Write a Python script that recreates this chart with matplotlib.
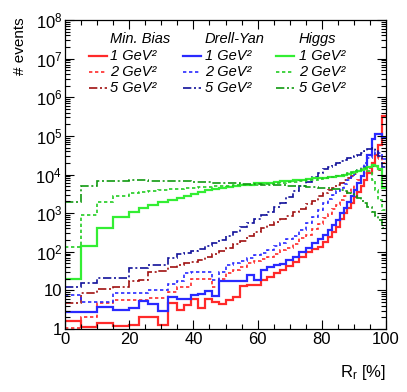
import numpy as np
import matplotlib
matplotlib.use("Agg")
import matplotlib.pyplot as plt
from matplotlib.lines import Line2D
from matplotlib.ticker import LogLocator, FuncFormatter, MultipleLocator

plt.rcParams['font.family'] = ['Liberation Sans', 'DejaVu Sans']
plt.rcParams['mathtext.fontset'] = 'custom'
plt.rcParams['mathtext.rm'] = 'Liberation Sans'
plt.rcParams['mathtext.it'] = 'Liberation Sans:italic'

# ---------------- data ----------------
bin_edges = [0, 5, 10, 15, 20, 23, 26, 29, 32, 35, 37, 39.2, 41.4, 43.6, 45.8, 48, 50.2,
             52.4, 54.6, 56.8, 59, 61, 63, 65, 67, 69, 71, 73, 75, 77, 78.8, 80.4, 81.8,
             83.1, 84.4, 85.7, 86.8, 87.9, 89, 90, 91.1, 92.1, 93.1, 94, 95.5, 96.6,
             97.6, 98.7, 100]

minbias_1 = [1.6, 1.15, 1.4, 1.2, 1.3, 2.0, 2.0, 1.3, 4.8, 3.1, 4.2, 6.1, 3.4, 6.1, 5.1, 4.4,
             5.6, 6.9, 13, 13.5, 13.5, 18.6, 22, 28, 34, 43, 55, 72, 100, 115, 135, 182, 246,
             330, 447, 694, 990, 1340, 1870, 2570, 3600, 5030, 7200, 10800, 19600, 32000,
             59000, 320000]
minbias_2 = [1.05, 2.1, 4.6, 5.6, 5.6, 5.6, 6.5, 6.5, 9.3, 12, 12, 19.5, 19.5, 19.5, 12, 19.5,
             28, 33, 40, 50, 58, 65, 75, 90, 111, 123, 160, 224, 272, 380, 520, 740, 950,
             1250, 1650, 2200, 2800, 3600, 4500, 5500, 7000, 9000, 11000, 15000, 20000,
             25000, 28000, 20000]
minbias_5 = [4.6, 8.7, 11, 12, 17, 19, 30, 32, 40, 45, 50, 55, 62, 72, 88, 105, 125, 155, 195,
             255, 330, 400, 480, 600, 700, 850, 1050, 1250, 1700, 2100, 2700, 3300, 3900,
             4500, 5200, 6000, 7000, 8000, 9200, 10500, 12000, 13500, 15000, 16000, 17000,
             16000, 13000, 9000]
drellyan_1 = [2.7, 2.7, 3.8, 3.1, 3.4, 5.4, 4.4, 3.0, 6.9, 5.9, 5.9, 7.6, 8.0, 9.8, 7.2, 17, 17,
              17.5, 17.5, 25, 18.6, 34, 40, 45, 48, 61, 75, 100, 123, 165, 210, 272, 365, 495,
              665, 990, 1340, 1990, 2800, 4000, 6000, 8900, 16000, 32000, 81000, 110000,
              110000, 87000]
drellyan_2 = [7.5, 5.1, 5.1, 8.4, 8.4, 8.4, 10, 10, 15, 17, 28, 30, 30, 30, 19, 30, 45, 50, 58,
              70, 80, 92, 110, 140, 170, 215, 260, 365, 545, 800, 1200, 1800, 2300, 3000,
              3800, 4500, 5600, 7000, 8500, 10500, 13000, 16000, 20000, 26000, 33000, 38000,
              35000, 25000]
drellyan_5 = [12, 15.8, 21, 21.5, 37, 37, 45, 45, 68, 90, 95, 105, 120, 140, 166, 200, 250, 330,
              430, 550, 700, 880, 1100, 1400, 1800, 2600, 3800, 4900, 6500, 8500, 11000, 14000,
              16000, 18000, 20000, 22000, 24000, 26000, 28000, 30000, 32000, 36000, 40000,
              45000, 48000, 42000, 30000, 16000]
higgs_1 = [20, 144, 420, 780, 1100, 1340, 1630, 1900, 2240, 2450, 2800, 3150, 3550, 3900, 4150,
           4400, 4650, 4900, 5200, 5500, 5900, 6050, 6200, 6450, 6600, 6900, 7100, 7400, 7600,
           7900, 8100, 8300, 8500, 8700, 8900, 9300, 9800, 10200, 10700, 11500, 12300, 13200,
           14100, 15500, 17800, 17000, 14000, 4500]
higgs_2 = [130, 870, 1900, 2700, 3300, 3500, 3800, 4000, 4200, 4300, 4500, 4600, 4700, 4800,
           4900, 5000, 5100, 5200, 5300, 5400, 5500, 5600, 5800, 6000, 6100, 6300, 6500, 6800,
           7000, 7300, 7600, 8000, 8400, 8800, 9200, 9700, 10200, 10800, 11500, 12300, 13200,
           14000, 14500, 12000, 7000, 4000, 2200, 1200]
higgs_5 = [1900, 5000, 6600, 6900, 7000, 7000, 6900, 6900, 6800, 6700, 6600, 6500, 6400, 6300,
           6200, 6100, 6000, 5900, 5800, 5700, 5600, 5500, 5400, 5300, 5200, 5100, 5000, 4900,
           4800, 4700, 4600, 4500, 4400, 4300, 4100, 3900, 3700, 3400, 3100, 2800, 2400, 2100,
           1800, 1400, 1100, 850, 650, 420]

group_names = ["Min. Bias", "Drell-Yan", "Higgs"]
cut_labels = ["1", "2", "5"]

# ---------------- styles ----------------
styles = {
    "1": dict(ls="-", lw=1.6),
    "2": dict(ls=(0, (2.0, 1.6)), lw=1.2),
    "5": dict(ls=(0, (5, 1.6, 1.2, 1.6)), lw=1.2),
}
colors = {
    ("Min. Bias", "1"): "#ff2a2a", ("Min. Bias", "2"): "#ff2a2a", ("Min. Bias", "5"): "#a01010",
    ("Drell-Yan", "1"): "#2a2aff", ("Drell-Yan", "2"): "#2a2aff", ("Drell-Yan", "5"): "#10109a",
    ("Higgs", "1"): "#33ee33", ("Higgs", "2"): "#22cc22", ("Higgs", "5"): "#119911",
}
series = {
    ("Min. Bias", "1"): minbias_1, ("Min. Bias", "2"): minbias_2, ("Min. Bias", "5"): minbias_5,
    ("Drell-Yan", "1"): drellyan_1, ("Drell-Yan", "2"): drellyan_2, ("Drell-Yan", "5"): drellyan_5,
    ("Higgs", "1"): higgs_1, ("Higgs", "2"): higgs_2, ("Higgs", "5"): higgs_5,
}

W, H = 407, 392
fig = plt.figure(figsize=(W / 100, H / 100), dpi=100)
ax = fig.add_axes([65 / W, 63 / H, 321 / W, 309 / H])

for g in group_names:
    for c in cut_labels:
        ax.stairs(series[(g, c)], bin_edges, baseline=None, color=colors[(g, c)],
                  **styles[c])

ax.set_yscale("log")
ax.set_xlim(0, 100)
ax.set_ylim(1, 1e8)
ax.xaxis.set_major_locator(MultipleLocator(20))
ax.xaxis.set_minor_locator(MultipleLocator(5))
ax.yaxis.set_major_locator(LogLocator(base=10, numticks=20))
ax.yaxis.set_minor_locator(LogLocator(base=10, subs=np.arange(2, 10), numticks=20))


def yfmt(v, pos):
    e = int(round(np.log10(v)))
    if e == 0:
        return "1"
    if e == 1:
        return "10"
    return r"$\mathregular{10^{%d}}$" % e


ax.yaxis.set_major_formatter(FuncFormatter(yfmt))
ax.yaxis.set_minor_formatter(FuncFormatter(lambda v, p: ""))
ax.tick_params(which="both", direction="in", top=True, right=True, width=0.8)
ax.tick_params(which="major", length=6.5, labelsize=12, pad=2)
ax.tick_params(which="minor", length=3.3)
for s in ax.spines.values():
    s.set_linewidth(0.9)

# axis titles
fig.text(386 / W, 1 - 373 / H, r"R$_\mathregular{r}$ [%]", ha="right", va="center", fontsize=12)
fig.text(20 / W, 1 - 17 / H, "# events", rotation=90, ha="center", va="top", fontsize=11)

# legend (three columns with headers)
col_line_x = [89, 183, 276]
line_len = 18
col_text_x = [110, 205, 299]
row_y = [56, 72, 88]
header_y = 39
for gi, g in enumerate(group_names):
    fig.text(col_text_x[gi] / W, 1 - header_y / H, g, style="italic", fontsize=10.5,
             ha="left", va="center")
    for ci, c in enumerate(cut_labels):
        y = 1 - row_y[ci] / H
        fig.add_artist(Line2D([col_line_x[gi] / W, (col_line_x[gi] + line_len) / W], [y, y],
                              transform=fig.transFigure, color=colors[(g, c)], **styles[c]))
        fig.text(col_text_x[gi] / W, y, "%s GeV\u00b2" % c, style="italic",
                 fontsize=10.5, ha="left", va="center")

fig.savefig("out.png", dpi=100)
